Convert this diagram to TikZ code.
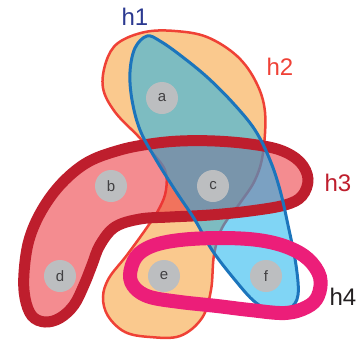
\documentclass[tikz,border=0pt]{standalone}
\usepackage{fontspec}
\setmainfont{Liberation Sans}
\definecolor{hOrange}{RGB}{250,201,142}
\definecolor{hTwoLine}{RGB}{239,65,54}
\definecolor{hThreeFill}{RGB}{235,46,53}
\definecolor{hThreeLine}{RGB}{190,30,45}
\definecolor{hOneFill}{RGB}{24,178,236}
\definecolor{hOneLine}{RGB}{28,117,188}
\definecolor{hFourLine}{RGB}{236,30,121}
\definecolor{vGray}{RGB}{188,190,192}
\definecolor{vText}{RGB}{65,64,66}
\definecolor{hOneText}{RGB}{43,57,144}
\definecolor{hFourText}{RGB}{35,31,32}
\tikzset{
  vert/.style={circle,fill=vGray,minimum size=32pt,inner sep=0pt,text=vText,font=\fontsize{15}{18}\selectfont},
  hlabel/.style={inner sep=0pt,font=\fontsize{24}{28}\selectfont},
}
\begin{document}
\begin{tikzpicture}[x=1pt,y=-1pt]
\useasboundingbox (0,0) rectangle (357,341);
% h2
\draw[fill=hOrange,draw=hTwoLine,line width=2.5pt] plot[smooth cycle,tension=0.6] coordinates{
 (265,112) (263,153) (255,180) (240,203) (222,228) (214,255) (211,290) (202,318) (180,336) (150,337) (125,332) (108,316) (103,297) (109,278) (127,255) (148,226) (160,207) (166,190) (165,170) (150,150) (138,136) (115,112) (103,88) (106,62) (118,43) (145,32) (175,31) (207,37) (237,56) (256,82)};
% h3 fill
\fill[hThreeFill,fill opacity=0.55] plot[smooth cycle,tension=0.6] coordinates{
 (24,273) (29,240) (42,210) (62,183) (88,162) (120,150) (150,144) (180,141) (215,141) (250,144) (280,150) (300,162) (308,179) (302,196) (285,205) (250,211) (210,215) (170,217) (140,219) (115,227) (100,245) (92,265) (84,285) (74,305) (60,318) (45,322) (32,316) (25,298)};
% h1 fill
\fill[hOneFill,fill opacity=0.55] plot[smooth cycle,tension=0.6] coordinates{
 (147,36) (160,41) (180,55) (207,77) (233,103) (255,130) (270,160) (280,190) (288,225) (296,265) (298,295) (290,308) (273,311) (255,302) (235,280) (212,250) (195,220) (175,190) (155,158) (140,130) (132,100) (130,72) (135,48)};
% h3 stroke
\draw[hThreeLine,line width=11pt] plot[smooth cycle,tension=0.6] coordinates{
 (24,273) (29,240) (42,210) (62,183) (88,162) (120,150) (150,144) (180,141) (215,141) (250,144) (280,150) (300,162) (308,179) (302,196) (285,205) (250,211) (210,215) (170,217) (140,219) (115,227) (100,245) (92,265) (84,285) (74,305) (60,318) (45,322) (32,316) (25,298)};
% h1 stroke
\draw[hOneLine,line width=3pt] plot[smooth cycle,tension=0.6] coordinates{
 (147,36) (160,41) (180,55) (207,77) (233,103) (255,130) (270,160) (280,190) (288,225) (296,265) (298,295) (290,308) (273,311) (255,302) (235,280) (212,250) (195,220) (175,190) (155,158) (140,130) (132,100) (130,72) (135,48)};
% h4 stroke
\draw[hFourLine,line width=14pt] plot[smooth cycle,tension=0.6] coordinates{
 (130,275) (136,257) (152,246) (180,240) (220,238) (258,240) (287,247) (308,259) (320,277) (318,296) (307,307) (285,313) (250,310) (217,306) (180,302) (150,297) (135,288)};
% vertices
\node[vert] (a) at (162,98) {a};
\node[vert] (b) at (111,186) {b};
\node[vert] (c) at (213,186) {c};
\node[vert] (d) at (60,276) {d};
\node[vert] (e) at (164,276) {e};
\node[vert] (f) at (266,276) {f};
% labels
\node[hlabel,text=hOneText] (l1) at (135,17) {h1};
\node[hlabel,text=hTwoLine] (l2) at (280,67) {h2};
\node[hlabel,text=hThreeLine] (l3) at (338,183) {h3};
\node[hlabel,text=hFourText] (l4) at (343,297) {h4};
\end{tikzpicture}
\end{document}
